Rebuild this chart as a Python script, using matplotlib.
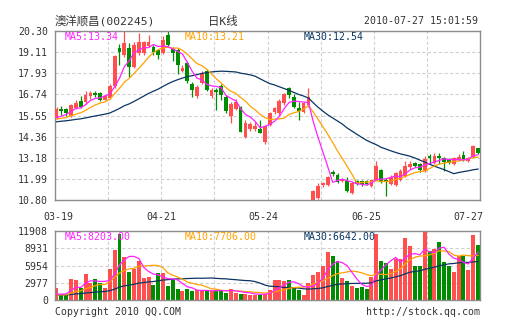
import numpy as np
import pandas as pd
import matplotlib
matplotlib.use("Agg")
import matplotlib.pyplot as plt

plt.rcParams['font.family'] = ['DejaVu Sans Mono', 'Noto Sans CJK SC']

# daily bars of 002245, 2010-03-19 .. 2010-07-27
opens = [15.42, 15.90, 15.90, 15.50, 15.97, 16.38, 16.31, 16.63, 16.80, 16.80,
         16.44, 16.54, 17.19, 19.35, 18.95, 19.33, 18.30, 19.05, 19.06, 19.48,
         19.38, 19.25, 19.06, 20.09, 19.31, 19.25, 18.03, 18.50, 17.32, 16.63,
         17.38, 18.03, 16.63, 17.00, 17.19, 16.60, 15.52, 15.92, 16.05, 14.36,
         14.80, 14.77, 14.77, 14.08, 15.02, 15.77, 15.67, 16.23, 17.08, 16.61,
         15.95, 15.76, 16.14, 10.82, 10.91, 11.63, 11.66, 12.37, 12.22, 11.85,
         11.89, 11.19, 11.89, 11.86, 11.85, 11.57, 11.94, 12.49, 11.94, 11.70,
         11.64, 11.92, 12.15, 12.64, 12.86, 12.82, 12.45, 13.27, 12.90, 13.27,
         13.14, 13.09, 12.80, 13.05, 13.33, 13.01, 13.24, 13.70]
highs = [16.05, 16.08, 15.95, 16.20, 16.40, 16.62, 16.92, 16.95, 16.95, 16.85,
         16.70, 17.30, 18.95, 19.55, 20.30, 19.60, 19.70, 20.17, 19.75, 20.05,
         19.50, 19.30, 20.00, 20.28, 19.40, 19.35, 18.37, 18.60, 17.45, 17.25,
         18.03, 18.15, 17.10, 17.10, 17.30, 16.70, 16.30, 16.45, 16.10, 15.30,
         15.20, 15.20, 15.30, 15.00, 15.75, 16.05, 16.45, 16.80, 17.15, 16.75,
         16.33, 16.30, 17.11, 11.35, 11.76, 11.82, 12.15, 12.50, 12.30, 12.02,
         12.07, 11.82, 11.95, 11.92, 11.90, 12.00, 13.01, 12.55, 12.05, 12.20,
         12.40, 12.55, 13.01, 13.01, 12.92, 12.88, 13.27, 13.40, 13.42, 13.45,
         13.20, 13.15, 13.20, 13.38, 13.57, 13.20, 13.89, 13.75]
lows = [15.33, 15.58, 15.55, 15.45, 15.90, 15.98, 16.20, 16.45, 16.60, 16.35,
        16.40, 16.48, 17.10, 18.40, 18.85, 17.70, 18.20, 18.95, 18.95, 19.40,
        18.95, 18.75, 19.00, 19.45, 18.60, 17.88, 17.98, 17.38, 16.57, 16.55,
        17.30, 16.90, 16.53, 15.88, 16.44, 15.70, 15.11, 15.85, 14.60, 14.30,
        14.70, 14.70, 14.55, 13.95, 14.95, 15.65, 15.60, 16.15, 16.55, 15.95,
        15.30, 15.70, 16.05, 10.78, 10.85, 11.55, 11.60, 12.13, 11.75, 11.80,
        11.25, 11.15, 11.65, 11.60, 11.65, 11.52, 11.90, 11.75, 11.00, 11.65,
        11.60, 11.85, 12.10, 12.55, 12.65, 12.40, 12.40, 12.80, 12.85, 12.85,
        12.45, 12.85, 12.75, 13.00, 13.00, 12.95, 13.20, 13.40]
closes = [15.93, 15.78, 15.68, 16.12, 16.25, 16.05, 16.72, 16.82, 16.72, 16.40,
          16.63, 17.19, 18.88, 19.12, 19.65, 18.26, 19.50, 19.68, 19.70, 19.70,
          19.12, 18.95, 19.80, 19.53, 19.06, 18.41, 18.22, 17.47, 17.00, 17.13,
          17.94, 17.00, 17.00, 16.87, 16.72, 15.78, 16.20, 16.33, 14.64, 15.11,
          15.05, 14.96, 14.58, 14.96, 15.67, 15.95, 16.36, 16.74, 16.70, 16.05,
          15.82, 16.23, 16.61, 11.29, 11.57, 11.76, 12.09, 12.26, 11.80, 11.94,
          11.33, 11.76, 11.70, 11.70, 11.70, 11.94, 12.71, 11.80, 11.80, 12.10,
          12.34, 12.45, 12.71, 12.85, 12.70, 12.49, 13.09, 13.14, 13.27, 13.14,
          12.91, 12.90, 13.16, 13.22, 13.09, 13.14, 13.84, 13.43]
volumes = [2070, 810, 940, 3630, 3430, 2000, 4490, 3000, 3560, 3000,
           2000, 5310, 8560, 11370, 7490, 4880, 5310, 6750, 3750, 3940,
           2620, 4690, 4690, 2500, 3630, 1870, 1560, 1870, 1560, 1690,
           1560, 1560, 1560, 1750, 1750, 1250, 1870, 1250, 1120, 1000,
           940, 940, 940, 1120, 1750, 3430, 3430, 3250, 3430, 2180,
           1750, 940, 3000, 4250, 4880, 5810, 8250, 7620, 6750, 3745,
           3255, 2375, 2000, 2185, 1870, 3940, 11375, 6750, 6420, 5305,
           7000, 7000, 10745, 9375, 5940, 5940, 11800, 8430, 8820, 9940,
           6520, 5905, 4860, 7600, 7600, 5100, 11300, 9415]

# the 29 sessions before 03-19, only used to start the moving averages
prev_closes = [14.85, 14.92, 15.05, 14.98, 15.10, 15.22, 15.15, 15.02, 14.95, 15.08,
               15.18, 15.25, 15.12, 15.05, 15.20, 15.32, 15.28, 15.15, 15.22, 15.30,
               15.38, 15.25, 15.18, 15.30, 15.28, 15.35, 15.22, 15.30, 15.34]
prev_volumes = [950, 1020, 880, 760, 1100, 930, 850, 790, 1050, 980,
                820, 900, 760, 870, 940, 1010, 830, 780, 720, 660,
                820, 780, 700, 760, 790, 700, 720, 740, 720]

date_labels = ['03-19', '04-21', '05-24', '06-25', '07-27']
price_ticks = [10.80, 11.9875, 13.175, 14.3625, 15.55, 16.7375, 17.925, 19.1125, 20.30]
price_labels = ['10.80', '11.99', '13.18', '14.36', '15.55', '16.74', '17.93', '19.11', '20.30']
vol_ticks = [0, 2977, 5954, 8931, 11908]

RED, GREEN = '#ff4f4f', '#008c00'
C5, C10, C30 = '#ff22ff', '#ffa200', '#0b3563'
TXT = '#333333'
W, H = 505, 330


def box(l, t, r, b):
    return [l / W, 1 - b / H, (r - l) / W, (b - t) / H]


def label(x, y, s, **kw):
    kw.setdefault('color', TXT)
    kw.setdefault('fontsize', 7.1)
    kw.setdefault('va', 'center')
    fig.text(x / W, 1 - y / H, s, **kw)


def moving(prev, vals, n):
    s = pd.Series(prev + vals, dtype=float).rolling(n).mean().to_numpy()
    return s[len(prev):]


x = np.arange(len(closes))
o, h, l, c = map(np.array, (opens, highs, lows, closes))
up = c >= o
colors = np.where(up, RED, GREEN)
xlim = (-0.31, 87.41)

fig = plt.figure(figsize=(W / 100, H / 100), dpi=100)
ax = fig.add_axes(box(55, 31, 480, 200))
axv = fig.add_axes(box(55, 231, 480, 300))

for a in (ax, axv):
    a.set_xlim(*xlim)
    a.set_xticks([xlim[0] + k * (xlim[1] - xlim[0]) / 8 for k in range(1, 8)])
    a.set_xticklabels([])
    a.grid(True, color='#d0d0d0', lw=0.8, ls=(0, (3, 2)))
    a.set_axisbelow(True)
    a.tick_params(length=0, pad=5, labelsize=7.1, colors=TXT)
    for sp in a.spines.values():
        sp.set_color('#8c8c8c')
        sp.set_linewidth(1.0)

# candles
ax.vlines(x, l, h, colors=colors, lw=0.9, zorder=2)
body = np.maximum(np.abs(c - o), 0.03)
ax.bar(x, body, bottom=np.minimum(o, c), width=0.78, color=colors, lw=0, zorder=3)
ma = {n: moving(prev_closes, closes, n) for n in (5, 10, 30)}
ax.plot(x, ma[30], color=C30, lw=0.9, zorder=4)
ax.plot(x, ma[10], color=C10, lw=0.9, zorder=4)
ax.plot(x, ma[5], color=C5, lw=0.9, zorder=4)
ax.set_ylim(10.80, 20.30)
ax.set_yticks(price_ticks)
ax.set_yticklabels(price_labels)

# volume
axv.bar(x, volumes, width=0.82, color=colors, lw=0, zorder=2)
vma = {n: moving(prev_volumes, volumes, n) for n in (5, 10, 30)}
axv.plot(x, vma[30], color=C30, lw=0.9, zorder=3)
axv.plot(x, vma[10], color=C10, lw=0.9, zorder=3)
axv.plot(x, vma[5], color=C5, lw=0.9, zorder=3)
axv.set_ylim(0, 11908)
axv.set_yticks(vol_ticks)
axv.set_yticklabels([str(v) for v in vol_ticks])

# headers and legends
label(55, 21, '澳洋顺昌(002245)', fontsize=8.2)
label(208, 21, '日K线', fontsize=8.2)
label(478, 21, '2010-07-27 15:01:59', ha='right')
label(65, 37, 'MA5:%.2f' % ma[5][-1], color=C5)
label(185, 37, 'MA10:%.2f' % ma[10][-1], color=C10)
label(304, 37, 'MA30:%.2f' % ma[30][-1], color=C30)
label(65, 237, 'MA5:%.2f' % vma[5][-1], color=C5)
label(185, 237, 'MA10:%.2f' % vma[10][-1], color=C10)
label(304, 237, 'MA30:%.2f' % vma[30][-1], color=C30)

for k, d in enumerate(date_labels):
    label(58.8 + k * 102.5, 217, d, ha='center')

label(55, 312, 'Copyright 2010 QQ.COM')
label(480, 312, 'http://stock.qq.com', ha='right')

fig.savefig('out.png', dpi=100, facecolor='white')
